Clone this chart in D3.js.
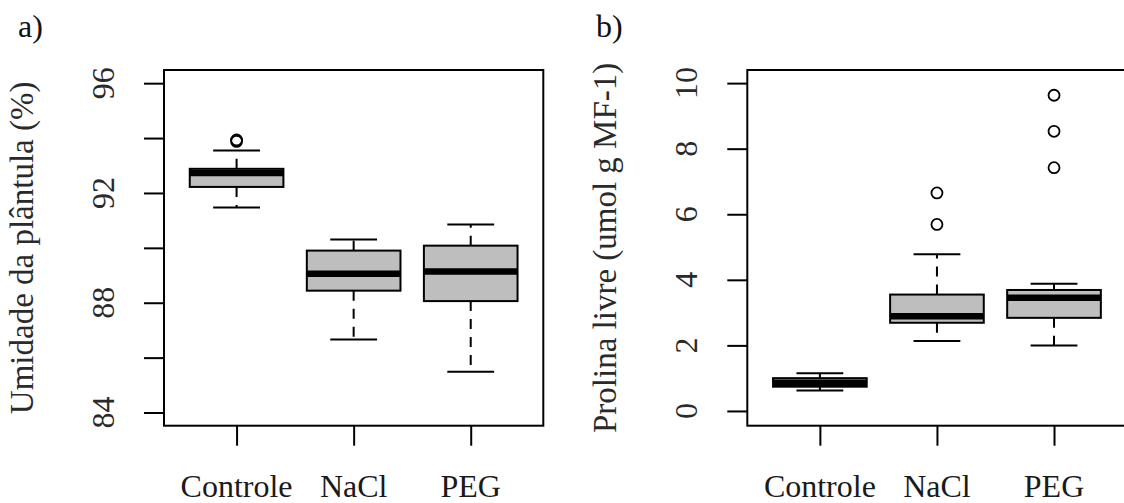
<!DOCTYPE html>
<html>
<head>
<meta charset="utf-8">
<script src="https://cdn.jsdelivr.net/npm/d3@7"></script>
<style>
  body { margin: 0; background: #fff; }
  svg { display: block; font-family: "Liberation Serif", "DejaVu Serif", serif; }
</style>
</head>
<body>
<div id="chart"></div>
<script>
// groups shared by both panels
const groups = ["Controle", "NaCl", "PEG"];

// panel a: Umidade da plântula (%) — box stats
const umidLow    = [91.47, 86.66, 85.49];
const umidQ1     = [92.22, 88.44, 88.06];
const umidMedian = [92.73, 89.06, 89.14];
const umidQ3     = [92.88, 89.90, 90.08];
const umidHigh   = [93.55, 90.30, 90.85];
const umidOut    = [[93.88, 93.93], [], []];
const umidTicks  = [84, 86, 88, 90, 92, 94, 96];
const umidTickLabels = ["84", "", "88", "", "92", "", "96"];

// panel b: Prolina livre (umol g MF-1)
const prolLow    = [0.62, 2.13, 2.00];
const prolQ1     = [0.74, 2.69, 2.84];
const prolMedian = [0.86, 2.89, 3.45];
const prolQ3     = [1.00, 3.55, 3.69];
const prolHigh   = [1.15, 4.78, 3.88];
const prolOut    = [[], [5.69, 6.65], [7.42, 8.53, 9.63]];
const prolTicks  = [0, 2, 4, 6, 8, 10];

const W = 1124, H = 503;
const svg = d3.select("#chart").append("svg")
  .attr("width", W).attr("height", H);

function boxPanel(opt) {
  const { left, right, top, bottom, yDomain, ticks, tickLabels, title, tag, tagX, stats } = opt;
  const g = svg.append("g");

  const x = d3.scaleLinear().domain([0.38, 3.62]).range([left, right]);
  const y = d3.scaleLinear().domain(yDomain).range([bottom, top]);
  const boxW = x(0.8) - x(0);

  const data = groups.map((name, i) => ({
    name, i: i + 1,
    low: stats.low[i], q1: stats.q1[i], med: stats.med[i],
    q3: stats.q3[i], high: stats.high[i], out: stats.out[i]
  }));

  // whiskers (dashed) + caps
  const bx = g.selectAll(".box").data(data).join("g").attr("class", "box");
  bx.append("line")
    .attr("x1", d => x(d.i)).attr("x2", d => x(d.i))
    .attr("y1", d => y(d.q3)).attr("y2", d => y(d.high))
    .attr("stroke", "#000").attr("stroke-width", 2).attr("stroke-dasharray", "10,8");
  bx.append("line")
    .attr("x1", d => x(d.i)).attr("x2", d => x(d.i))
    .attr("y1", d => y(d.q1)).attr("y2", d => y(d.low))
    .attr("stroke", "#000").attr("stroke-width", 2).attr("stroke-dasharray", "10,8");
  ["high", "low"].forEach(k => {
    bx.append("line")
      .attr("x1", d => x(d.i) - boxW / 4).attr("x2", d => x(d.i) + boxW / 4)
      .attr("y1", d => y(d[k])).attr("y2", d => y(d[k]))
      .attr("stroke", "#000").attr("stroke-width", 2);
  });
  bx.append("rect")
    .attr("x", d => x(d.i) - boxW / 2).attr("width", boxW)
    .attr("y", d => y(d.q3)).attr("height", d => y(d.q1) - y(d.q3))
    .attr("fill", "#bebebe").attr("stroke", "#000").attr("stroke-width", 2);
  bx.append("line")
    .attr("x1", d => x(d.i) - boxW / 2).attr("x2", d => x(d.i) + boxW / 2)
    .attr("y1", d => y(d.med)).attr("y2", d => y(d.med))
    .attr("stroke", "#000").attr("stroke-width", 6.5);
  bx.selectAll("circle").data(d => d.out.map(v => ({ v, i: d.i }))).join("circle")
    .attr("cx", d => x(d.i)).attr("cy", d => y(d.v)).attr("r", 5.5)
    .attr("fill", "none").attr("stroke", "#000").attr("stroke-width", 1.8);

  // frame
  g.append("rect")
    .attr("x", left).attr("y", top)
    .attr("width", right - left).attr("height", bottom - top)
    .attr("fill", "none").attr("stroke", "#000").attr("stroke-width", 2);

  // y axis ticks
  g.append("g")
    .attr("transform", `translate(${left},0)`)
    .call(d3.axisLeft(y).tickValues(ticks).tickSize(20).tickFormat(""))
    .call(a => a.select(".domain").remove())
    .call(a => a.selectAll(".tick line").attr("stroke", "#000").attr("stroke-width", 2));

  g.selectAll(".ylab").data(ticks).join("text")
    .attr("class", "ylab")
    .attr("transform", d => `translate(${left - 50},${y(d)}) rotate(-90)`)
    .attr("text-anchor", "middle")
    .attr("font-size", 32).attr("fill", "#2a2a2a")
    .text((d, i) => tickLabels ? tickLabels[i] : d);

  // x axis ticks
  g.append("g")
    .attr("transform", `translate(0,${bottom})`)
    .call(d3.axisBottom(x).tickValues([1, 2, 3]).tickSize(20).tickFormat(""))
    .call(a => a.select(".domain").remove())
    .call(a => a.selectAll(".tick line").attr("stroke", "#000").attr("stroke-width", 2));

  g.selectAll(".xlab").data(groups).join("text")
    .attr("class", "xlab")
    .attr("x", (d, i) => x(i + 1)).attr("y", bottom + 71)
    .attr("text-anchor", "middle")
    .attr("font-size", 32).attr("fill", "#1a1a1a")
    .text(d => d);

  // axis title
  g.append("text")
    .attr("transform", `translate(${left - 131},${(top + bottom) / 2}) rotate(-90)`)
    .attr("text-anchor", "middle")
    .attr("font-size", 33).attr("fill", "#2a2a2a")
    .text(title);

  // panel tag
  g.append("text")
    .attr("x", tagX).attr("y", 37)
    .attr("font-size", 32).attr("fill", "#111")
    .text(tag);
}

boxPanel({
  left: 164, right: 543.3, top: 70, bottom: 425.7,
  yDomain: [83.52, 96.48], ticks: umidTicks, tickLabels: umidTickLabels,
  title: "Umidade da plântula (%)", tag: "a)", tagX: 18,
  stats: { low: umidLow, q1: umidQ1, med: umidMedian, q3: umidQ3, high: umidHigh, out: umidOut }
});

boxPanel({
  left: 747.3, right: 1126.6, top: 70, bottom: 425.7,
  yDomain: [-0.45, 10.4], ticks: prolTicks, tickLabels: null,
  title: "Prolina livre (umol g MF-1)", tag: "b)", tagX: 596,
  stats: { low: prolLow, q1: prolQ1, med: prolMedian, q3: prolQ3, high: prolHigh, out: prolOut }
});
</script>
</body>
</html>
